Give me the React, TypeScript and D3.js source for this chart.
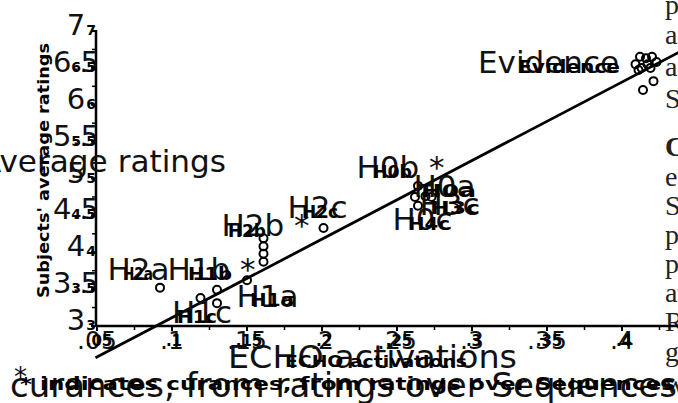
import React from 'react';
import * as d3 from 'd3';

// ECHO activation (x) vs subjects' average rating (y), one circle per sequence
const pointActivation = [0.092, 0.119, 0.13, 0.13, 0.15, 0.161, 0.161, 0.161, 0.161, 0.201,
  0.262, 0.264, 0.264, 0.269, 0.273,
  0.409, 0.411, 0.412, 0.413, 0.414, 0.416, 0.417, 0.419, 0.42, 0.421, 0.423];
const pointRating = [3.52, 3.38, 3.49, 3.31, 3.62, 4.19, 4.08, 3.98, 3.87, 4.33,
  4.75, 4.9, 4.63, 4.76, 4.75,
  6.55, 6.47, 6.65, 6.5, 6.2, 6.63, 6.55, 6.5, 6.65, 6.32, 6.58];

// regression line end points
const fitActivation = [0.049, 0.45];
const fitRating = [2.57, 6.84];

const xTicks = [0.05, 0.1, 0.15, 0.2, 0.25, 0.3, 0.35, 0.4];
const xTickLabels = ['.05', '.1', '.15', '.2', '.25', '.3', '.35', '.4'];
const yTicks = [3, 3.5, 4, 4.5, 5, 5.5, 6, 6.5, 7];
const yTickLabels = ['3', '3.5', '4', '4.5', '5', '5.5', '6', '6.5', '7'];

const bigLabels = ['Evidence', 'H0b *', 'H0a', 'H3c', 'H0c', 'H2c', 'H2b *', 'H2a', 'H1b *', 'H1a', 'H1c'];
const smallLabels = ['Evidence', 'H0b', 'H0a', 'H3c', 'H4c', 'H2c', 'H2b', 'H2a', 'H1b', 'H1a', 'H1c'];

// clipped words of the page's body text on the right
const sideWords = ['participants', 'and', 'activation', 'Sequences', 'Correlation', 'each', 'Sequence',
  'predicted', 'participants', 'average', 'Results', 'given', 'with'];

// label anchors, in data units [activation, rating]
const bigAnchor = [[0.304, 6.43], [0.223, 5.01], [0.261, 4.75], [0.265, 4.5], [0.247, 4.3], [0.177, 4.46],
  [0.133, 4.22], [0.057, 3.62], [0.097, 3.62], [0.143, 3.26], [0.1, 3.04]];
const smallAnchor = [[0.3307, 6.43], [0.234, 5.01], [0.266, 4.75], [0.272, 4.52], [0.2573, 4.3], [0.1867, 4.46],
  [0.1373, 4.21], [0.0673, 3.62], [0.1107, 3.62], [0.152, 3.27], [0.1033, 3.04]];
const smallWidth = [102, 39, 55, 50, 42, 36, 38, 30, 44, 44, 40];

const W = 678;
const H = 403;
const sans = 'DejaVu Sans';

export default function App() {
  const x = d3.scaleLinear().domain([0.05, 0.4]).range([97, 622]);
  const y = d3.scaleLinear().domain([3, 7]).range([326, 31]);

  const minorX = d3.range(0.075, 0.45, 0.05);
  const minorY = d3.range(3.25, 7, 0.5);

  const line = d3.line<number>()
    .x((_, i) => x(fitActivation[i]))
    .y((d) => y(d));

  const sideBase = [14, 44, 76, 108, 156, 186, 215, 244, 273, 302, 331, 361, 393];

  return (
    <svg width={W} height={H} style={{ position: 'absolute', left: 0, top: 0, background: '#fff' }}>
      <rect width={W} height={H} fill="#fff" />

      {/* right-hand body text of the page */}
      {sideWords.map((w, i) => (
        <text key={'s' + i} x={665} y={sideBase[i]} fontFamily="Liberation Serif" fontSize={28}
          fontWeight={i === 4 ? 'bold' : 'normal'} fill="#222">{w}</text>
      ))}

      {/* axes */}
      <line x1={96} x2={697} y1={326} y2={326} stroke="#000" strokeWidth={2.5} />
      <line x1={96} x2={96} y1={326} y2={30} stroke="#000" strokeWidth={2.5} />
      {xTicks.map((t) => (
        <line key={'xt' + t} x1={x(t)} x2={x(t)} y1={326} y2={331} stroke="#000" strokeWidth={2} />
      ))}
      {minorX.map((t) => (
        <line key={'xm' + t} x1={x(t)} x2={x(t)} y1={326} y2={330} stroke="#000" strokeWidth={1.5} />
      ))}
      {yTicks.map((t) => (
        <line key={'yt' + t} x1={91} x2={96} y1={y(t)} y2={y(t)} stroke="#000" strokeWidth={2} />
      ))}
      {minorY.map((t) => (
        <line key={'ym' + t} x1={92} x2={96} y1={y(t)} y2={y(t)} stroke="#000" strokeWidth={1.5} />
      ))}

      {/* tick labels: large layer and small bold layer */}
      {xTicks.map((t, i) => (
        <g key={'xl' + t}>
          <text x={x(t)} y={349} textAnchor="middle" fontFamily={sans} fontSize={25} fill="#111">{xTickLabels[i]}</text>
          <text x={x(t) + 2} y={346} textAnchor="middle" fontFamily={sans} fontSize={15} fontWeight="bold" fill="#000">{xTickLabels[i]}</text>
        </g>
      ))}
      {yTicks.map((t, i) => (
        <g key={'yl' + t}>
          <text x={76} y={y(t) + 4} textAnchor="middle" fontFamily={sans} fontSize={29} fill="#111">{yTickLabels[i]}</text>
          <text x={96} y={y(t) + 4} textAnchor="end" fontFamily={sans} fontSize={14} fontWeight="bold" fill="#000">{yTickLabels[i]}</text>
        </g>
      ))}

      {/* axis titles */}
      <text x={-20} y={172} fontFamily={sans} fontSize={31} textLength={246} lengthAdjust="spacingAndGlyphs" fill="#111">Average ratings</text>
      <text transform="translate(49,298) rotate(-90)" fontFamily={sans} fontSize={15} fontWeight="bold"
        textLength={255} lengthAdjust="spacingAndGlyphs" fill="#000">Subjects' average ratings</text>
      <text x={228} y={368} fontFamily={sans} fontSize={32} textLength={289} lengthAdjust="spacingAndGlyphs" fill="#111">ECHO activations</text>
      <text x={285} y={367} fontFamily={sans} fontSize={16} fontWeight="bold" textLength={182}
        lengthAdjust="spacingAndGlyphs" fill="#000">ECHO activations</text>

      {/* regression line */}
      <path d={line(fitRating) || ''} fill="none" stroke="#000" strokeWidth={2.8} />

      {/* data points */}
      {pointActivation.map((a, i) => (
        <circle key={'p' + i} cx={x(a)} cy={y(pointRating[i])} r={4} fill="none" stroke="#000" strokeWidth={2} />
      ))}

      {/* point labels */}
      {bigLabels.map((l, i) => (
        <text key={'bl' + i} x={x(bigAnchor[i][0])} y={y(bigAnchor[i][1])} fontFamily={sans} fontSize={31} fill="#111">{l}</text>
      ))}
      {smallLabels.map((l, i) => (
        <text key={'sl' + i} x={x(smallAnchor[i][0])} y={y(smallAnchor[i][1])} fontFamily={sans} fontSize={17}
          fontWeight="bold" textLength={smallWidth[i]} lengthAdjust="spacingAndGlyphs" fill="#000">{l}</text>
      ))}

      {/* caption */}
      <text x={14} y={386} fontFamily={sans} fontSize={26} fill="#111">*</text>
      <text x={10} y={397} fontFamily={sans} fontSize={34} textLength={667} lengthAdjust="spacingAndGlyphs" fill="#111">curances, from ratings over Sequences</text>
      <text x={20} y={390} fontFamily={sans} fontSize={17} fontWeight="bold" textLength={655}
        lengthAdjust="spacingAndGlyphs" fill="#000">* indicates curances, from ratings over Sequences</text>
    </svg>
  );
}
